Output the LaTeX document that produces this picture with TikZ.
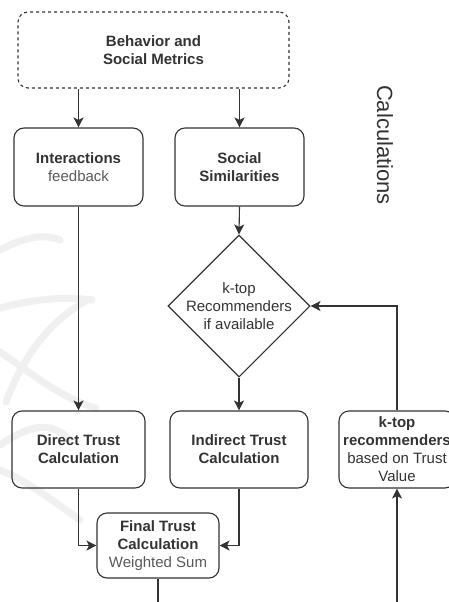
\documentclass[tikz,border=0pt]{standalone}
\usepackage{fontspec}
\setmainfont{Liberation Sans}
\usetikzlibrary{shapes.geometric,arrows.meta}
\definecolor{ln}{HTML}{333333}
\definecolor{tx}{HTML}{333333}
\definecolor{lt}{HTML}{5A5A5A}
\definecolor{wm}{HTML}{F0F0F0}
\begin{document}
\begin{tikzpicture}[x=1pt,y=-1pt,
  box/.style={draw=ln,line width=1.1pt,rounded corners=10pt,inner sep=0pt,align=center,
    font=\fontsize{15}{18}\selectfont,text=tx},
  dbox/.style={box,dash pattern=on 3pt off 3pt},
  dia/.style={draw=ln,line width=1.1pt,diamond,inner sep=0pt,minimum width=142pt,minimum height=142pt},
  plain/.style={inner sep=0pt,align=center,font=\fontsize{15}{18}\selectfont,text=tx},
  conn/.style={draw=ln,line width=1.1pt},
  arr/.style={conn,-{Stealth[length=10pt,width=10pt,inset=2.5pt]}},
  wmk/.style={draw=wm,line width=7pt,line cap=round}
]
\useasboundingbox (0,0) rectangle (449,602);
\clip (0,0) rectangle (449,602);
\fill[white] (0,0) rectangle (449,602);
% faint watermark
\draw[wmk] (0,308) .. controls (30,300) and (60,296) .. (92,300);
\draw[wmk] (84,302) .. controls (45,325) and (22,360) .. (6,402);
\draw[wmk] (0,352) .. controls (30,372) and (60,398) .. (96,408);
\draw[wmk] (0,445) .. controls (30,425) and (50,420) .. (70,440);
\draw[wmk] (0,470) .. controls (25,480) and (45,495) .. (80,520);
\draw[wmk] (0,250) .. controls (20,240) and (40,232) .. (60,240);
% nodes
\node[dbox,minimum width=271pt,minimum height=76pt] (top) at (153.5,50) {\textbf{Behavior and}\\\textbf{Social Metrics}};
\node[box,minimum width=129pt,minimum height=78pt] (inter) at (78.5,167) {\textbf{Interactions}\\\textcolor{lt}{feedback}};
\node[box,minimum width=129pt,minimum height=78pt] (social) at (239.5,167) {\textbf{Social}\\\textbf{Similarities}};
\node[dia] (dia) at (239,306) {};
\node[plain] (diatext) at (239,306) {k-top\\Recommenders\\if available};
\node[box,minimum width=133pt,minimum height=77pt] (direct) at (78.5,449.5) {\textbf{Direct Trust}\\\textbf{Calculation}};
\node[box,minimum width=138pt,minimum height=77pt] (indirect) at (239,449.5) {\textbf{Indirect Trust}\\\textbf{Calculation}};
\node[box,minimum width=116pt,minimum height=77pt] (ktop) at (397,449.5) {\textbf{k-top}\\\textbf{recommenders}\\based on Trust\\Value};
\node[box,minimum width=122pt,minimum height=65pt] (final) at (158,545.5) {\textbf{Final Trust}\\\textbf{Calculation}\\\textcolor{lt}{Weighted Sum}};
\node[plain,rotate=-90,font=\fontsize{22}{26}\selectfont] (calc) at (385,145) {Calculations};
\coordinate (finalout) at (158,602);
\coordinate (kin) at (397,602);
% connectors
\draw[arr] (top.south -| inter.north) -- (inter.north);
\draw[arr] (top.south -| social.north) -- (social.north);
\draw[arr] (social.south) -- (dia.north);
\draw[arr] (dia.south) -- (indirect.north);
\draw[arr] (inter.south) -- (direct.north);
\draw[arr] (ktop.north) |- (dia.east);
\draw[arr] (direct.south) |- (final.west);
\draw[arr] (indirect.south) |- (final.east);
\draw[conn] (final.south) -- (finalout);
\draw[arr] (kin) -- (ktop.south);
\end{tikzpicture}
\end{document}
